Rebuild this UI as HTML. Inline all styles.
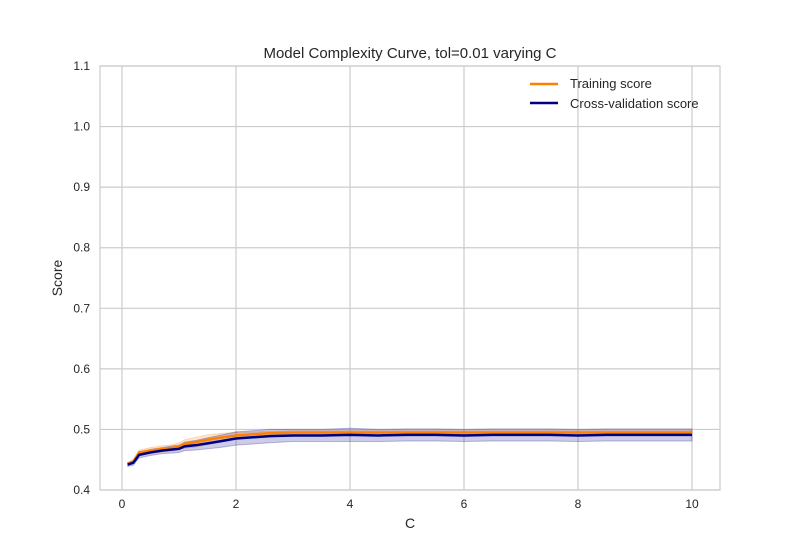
<!DOCTYPE html>
<html><head><meta charset="utf-8"><style>
body{margin:0;background:#fff;font-family:"Liberation Sans",sans-serif}
</style></head><body>
<svg id="chart" width="800" height="550" xmlns="http://www.w3.org/2000/svg" style="font-family:'Liberation Sans',sans-serif">
<rect width="800" height="550" fill="#fff"/>
<g id="grid"></g>
<g id="bands"></g>
<g id="lines"></g>
<g id="ticks" font-size="12" fill="#262626"></g>
<rect x="100" y="66" width="620" height="424" fill="none" stroke="#cccccc" stroke-width="1.2"/>
<text x="410" y="58" text-anchor="middle" font-size="15" fill="#262626">Model Complexity Curve, tol=0.01 varying C</text>
<text x="410" y="528" text-anchor="middle" font-size="14" fill="#262626">C</text>
<text x="62" y="278" text-anchor="middle" font-size="14" fill="#262626" transform="rotate(-90 62 278)">Score</text>
<g>
<line x1="530" y1="84" x2="558" y2="84" stroke="#ff8000" stroke-width="2.5"/>
<text x="570" y="88" font-size="13" fill="#262626">Training score</text>
<line x1="530" y1="103" x2="558" y2="103" stroke="#000080" stroke-width="2.5"/>
<text x="570" y="108" font-size="13" fill="#262626">Cross-validation score</text>
</g>
</svg>
<script>
const cValues=[0.1,0.2,0.3,0.5,0.7,0.9,1.0,1.1,1.3,1.5,1.7,2.0,2.3,2.6,3.0,3.5,4.0,4.5,5,5.5,6,6.5,7,7.5,8,8.5,9,9.5,10];
const trainMean=[0.443,0.447,0.462,0.465,0.468,0.470,0.472,0.476,0.479,0.483,0.486,0.490,0.492,0.494,0.495,0.495,0.495,0.495,0.495,0.495,0.495,0.495,0.495,0.495,0.495,0.495,0.495,0.495,0.495];
const trainStd=[0.002,0.003,0.004,0.005,0.005,0.005,0.006,0.007,0.008,0.008,0.007,0.005,0.004,0.003,0.003,0.003,0.003,0.003,0.003,0.003,0.003,0.003,0.003,0.003,0.003,0.003,0.003,0.003,0.003];
const cvMean=[0.442,0.445,0.458,0.462,0.465,0.467,0.468,0.472,0.474,0.477,0.480,0.485,0.487,0.489,0.490,0.490,0.491,0.490,0.491,0.491,0.490,0.491,0.491,0.491,0.490,0.491,0.491,0.491,0.491];
const cvStd=[0.003,0.004,0.005,0.005,0.005,0.006,0.006,0.007,0.008,0.009,0.010,0.011,0.011,0.011,0.010,0.010,0.011,0.010,0.010,0.010,0.010,0.010,0.010,0.010,0.010,0.010,0.010,0.010,0.010];
const xTicks=[0,2,4,6,8,10];
const yTicks=[0.4,0.5,0.6,0.7,0.8,0.9,1.0,1.1];
const xs=v=>122+v*57;
const ys=v=>490-(v-0.4)*605.7;
const NS="http://www.w3.org/2000/svg";
function mk(tag,attrs,parent){const e=document.createElementNS(NS,tag);for(const k in attrs)e.setAttribute(k,attrs[k]);parent.appendChild(e);return e;}
const grid=document.getElementById('grid'),ticks=document.getElementById('ticks');
xTicks.forEach(t=>{
 const l=mk('line',{x1:xs(t),x2:xs(t),y1:66,y2:490,stroke:'#cccccc','stroke-width':1.2},grid);
 
 
 const tx=mk('text',{x:xs(t),y:508,'text-anchor':'middle'},ticks);tx.textContent=t;
 
 
});
yTicks.forEach(t=>{
 const l=mk('line',{x1:100,x2:720,y1:ys(t),y2:ys(t),stroke:'#cccccc','stroke-width':1.2},grid);
 
 
 const tx=mk('text',{x:90,y:ys(t)+4,'text-anchor':'end'},ticks);tx.textContent=t.toFixed(1);
 
 
});
function band(m,s,color,name){
 let d='';cValues.forEach((c,i)=>{d+=(i?'L':'M')+xs(c)+','+ys(m[i]+s[i]);});
 for(let i=cValues.length-1;i>=0;i--)d+='L'+xs(cValues[i])+','+ys(m[i]-s[i]);
 const p=mk('path',{d:d+'Z',fill:color,'fill-opacity':0.2,stroke:color,'stroke-opacity':0.25},document.getElementById('bands'));
 
 
}
function line(m,color,name){
 const d=cValues.map((c,i)=>(i?'L':'M')+xs(c)+','+ys(m[i])).join('');
 const p=mk('path',{d:d,fill:'none',stroke:color,'stroke-width':2.5},document.getElementById('lines'));
 
 
}
band(trainMean,trainStd,'#ff8000','training-band');
band(cvMean,cvStd,'#000080','cv-band');
line(trainMean,'#ff8000','training-line');
line(cvMean,'#000080','cv-line');
</script>
</body></html>
